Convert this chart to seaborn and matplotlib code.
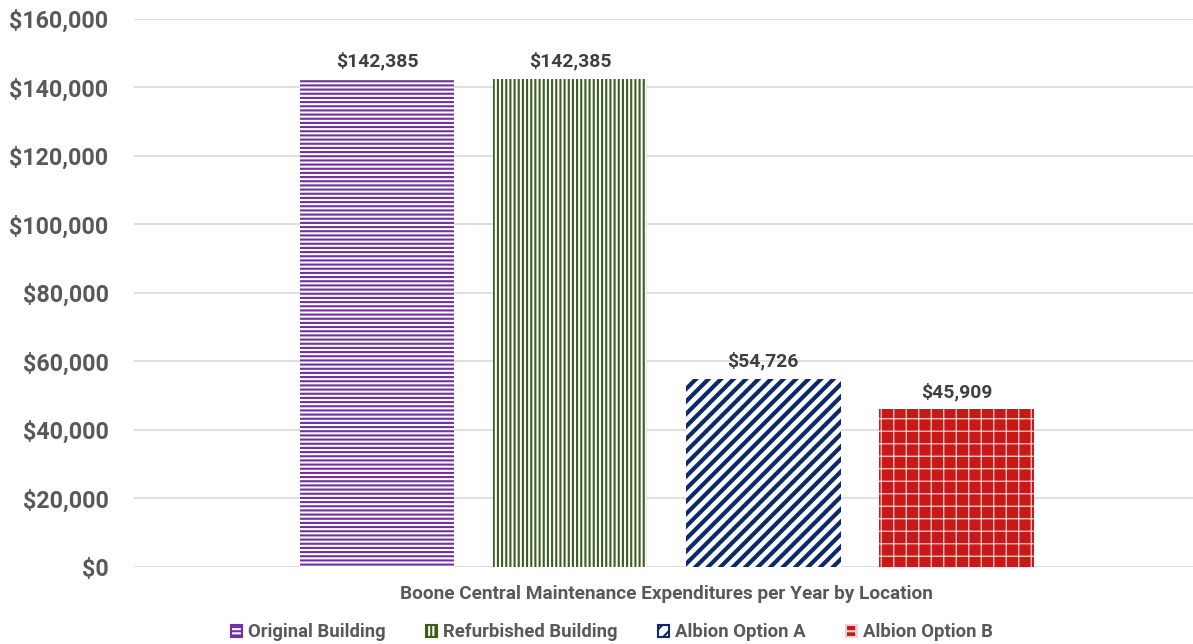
import pandas as pd
import matplotlib.pyplot as plt
import seaborn as sns
from matplotlib.patches import Patch
from matplotlib.ticker import FuncFormatter

# chart values
category = ["Boone Central Maintenance Expenditures per Year by Location"]
series = ["Original Building", "Refurbished Building", "Albion Option A", "Albion Option B"]
values = [142385, 142385, 54726, 45909]
colors = ["#7030A0", "#3B5E1F", "#0C2A6B", "#C00000"]
hatches = ["------", "||||||", "////", "++"]
y_ticks = [0, 20000, 40000, 60000, 80000, 100000, 120000, 140000, 160000]

df = pd.DataFrame({"Category": category * len(series), "Series": series, "Value": values})

sns.set_style("white")
plt.rcParams["font.family"] = ["Roboto", "DejaVu Sans"]
plt.rcParams["hatch.linewidth"] = 1.0
gray = "#595959"
hatch_lw = [1.0, 1.0, 2.0, 0.6]

fig, ax = plt.subplots(figsize=(1193 / 150, 644 / 150), dpi=150)
fig.subplots_adjust(left=0.112, right=1.0, top=0.971, bottom=0.12)

sns.barplot(data=df, x="Category", y="Value", hue="Series", hue_order=series,
            palette=colors, width=0.8, gap=0.2, ax=ax, legend=False)

for i, cont in enumerate(ax.containers):
    for p in cont:
        if i == 3:
            p.set_facecolor("#C81818")
            p.set_edgecolor("#F4D0D0")
        else:
            p.set_facecolor("white")
            p.set_edgecolor(colors[i])
        p.set_hatch(hatches[i])
        p.set_linewidth(0)
        if hasattr(p, "set_hatch_linewidth"):
            p.set_hatch_linewidth(hatch_lw[i])
    ax.bar_label(cont, labels=[f"${v:,.0f}" for v in cont.datavalues], padding=4,
                 fontsize=9.3, fontweight="bold", color="#404040")

ax.set_ylim(0, 160000)
ax.set_yticks(y_ticks)
ax.yaxis.set_major_formatter(FuncFormatter(lambda v, _: f"${v:,.0f}"))
ax.set_xlim(-0.552, 0.545)
ax.grid(axis="y", color="#D9D9D9", linewidth=0.8)
ax.set_axisbelow(True)
for s in ax.spines.values():
    s.set_visible(False)
ax.tick_params(axis="y", length=0, pad=12, labelsize=11.2, labelcolor=gray)
for t in ax.get_yticklabels():
    t.set_fontweight("bold")
ax.tick_params(axis="x", length=0, pad=9, labelsize=9.1, labelcolor=gray)
for t in ax.get_xticklabels():
    t.set_fontweight("bold")
ax.set_xlabel("")
ax.set_ylabel("")

handles = []
for i, name in enumerate(series):
    if i == 3:
        handles.append(Patch(facecolor="#C81818", edgecolor="#F4D0D0", hatch=hatches[i], label=name))
    else:
        handles.append(Patch(facecolor="white", edgecolor=colors[i], hatch=hatches[i], label=name))
leg = fig.legend(handles=handles, loc="lower center", bbox_to_anchor=(0.513, -0.022), ncol=4,
                 frameon=False, fontsize=8.9, handlelength=0.6, handleheight=0.6,
                 handletextpad=0.3, columnspacing=2.2)
for t in leg.get_texts():
    t.set_color(gray)
    t.set_fontweight("bold")

plt.savefig("out.png", dpi=150)
